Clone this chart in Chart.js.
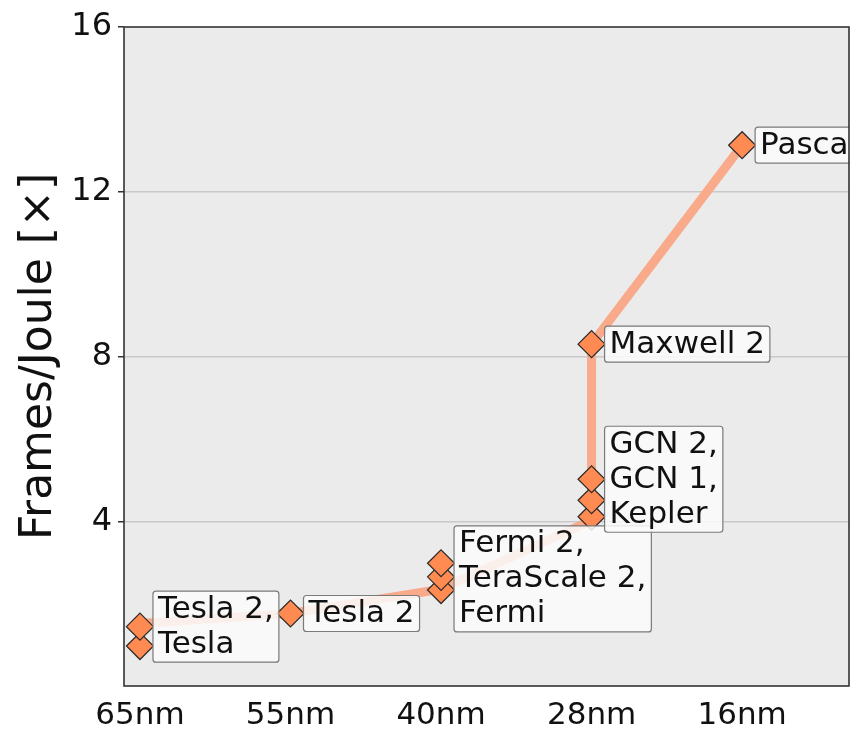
<!DOCTYPE html>
<html>
<head>
<meta charset="utf-8">
<script src="https://cdn.jsdelivr.net/npm/chart.js@4.4.1/dist/chart.umd.min.js"></script>
<style>
    html, body { margin: 0; padding: 0; background: #ffffff; }
    #efficiencyChart { display: block; }
</style>
</head>
<body>
<canvas id="efficiencyChart" width="856" height="732"></canvas>
<script>
// Process nodes on the x axis
const nodes = ['65nm', '55nm', '40nm', '28nm', '16nm'];

// Architectures (node index and frames/joule)
const archNames = ['Tesla', 'Tesla 2', 'Tesla 2', 'Fermi', 'TeraScale 2', 'Fermi 2', 'Kepler', 'GCN 1', 'GCN 2', 'Maxwell 2', 'Pascal'];
const archNode = [0, 0, 1, 2, 2, 2, 3, 3, 3, 3, 4];
const archValue = [0.97, 1.44, 1.76, 2.33, 2.65, 2.98, 4.11, 4.51, 5.02, 8.3, 13.13];

// Trend line
const trendNode = [0, 1, 2, 3, 3, 4];
const trendValue = [1.52, 1.76, 2.35, 4.02, 8.3, 13.13];

// Annotation boxes
const labelNode = [0, 1, 2, 3, 3, 4];
const labelValue = [1.44, 1.76, 2.6, 5.02, 8.3, 13.13];
const labelLines = [
    ['Tesla 2,', 'Tesla'],
    ['Tesla 2'],
    ['Fermi 2,', 'TeraScale 2,', 'Fermi'],
    ['GCN 2,', 'GCN 1,', 'Kepler'],
    ['Maxwell 2'],
    ['Pascal']
];

const yTicks = [4, 8, 12, 16];

document.addEventListener('DOMContentLoaded', function() {
    const FONT = '"DejaVu Sans", sans-serif';

    // plot background + frame
    const framePlugin = {
        id: 'frame',
        beforeDraw(chart) {
            const a = chart.chartArea;
            const ctx = chart.ctx;
            ctx.save();
            ctx.fillStyle = '#ebebeb';
            ctx.fillRect(a.left, a.top, a.right - a.left, a.bottom - a.top);
            ctx.restore();
        },
        afterDraw(chart) {
            const a = chart.chartArea;
            const ctx = chart.ctx;
            ctx.save();
            ctx.strokeStyle = '#333333';
            ctx.lineWidth = 1.6;
            ctx.strokeRect(a.left, a.top, a.right - a.left, a.bottom - a.top);
            ctx.restore();
        }
    };

    // text boxes next to the markers
    const labelPlugin = {
        id: 'archLabels',
        afterDatasetsDraw(chart) {
            const ctx = chart.ctx;
            const a = chart.chartArea;
            const xs = chart.scales.x;
            const ys = chart.scales.y;
            const lineH = 35;
            ctx.save();
            ctx.beginPath();
            ctx.rect(a.left, a.top, a.right - a.left, a.bottom - a.top);
            ctx.clip();
            ctx.font = '31px ' + FONT;
            labelLines.forEach(function(lines, i) {
                const px = xs.getPixelForValue(labelNode[i]) + 13;
                const py = ys.getPixelForValue(labelValue[i]);
                let w = 0;
                lines.forEach(function(t) { w = Math.max(w, ctx.measureText(t).width); });
                const h = lines.length * lineH + 1;
                const top = py - h / 2;
                ctx.beginPath();
                ctx.roundRect(px, top, w + 10, h, 3);
                ctx.fillStyle = 'rgba(252,252,252,0.85)';
                ctx.fill();
                ctx.strokeStyle = '#7a7a7a';
                ctx.lineWidth = 1.2;
                ctx.stroke();
                ctx.fillStyle = '#111111';
                ctx.textBaseline = 'middle';
                ctx.textAlign = 'left';
                lines.forEach(function(t, k) {
                    ctx.fillText(t, px + 5, top + lineH / 2 + 1 + k * lineH);
                });
            });
            ctx.restore();
        }
    };

    function initChart() {
        const canvas = document.getElementById('efficiencyChart');
        const existing = Chart.getChart('efficiencyChart');
        if (existing) existing.destroy();

        const archPoints = archNode.map((n, i) => ({ x: n, y: archValue[i], name: archNames[i] }));
        const trendPoints = trendNode.map((n, i) => ({ x: n, y: trendValue[i] }));

        new Chart(canvas.getContext('2d'), {
            type: 'scatter',
            data: {
                datasets: [{
                    label: 'Architectures',
                    data: archPoints,
                    pointStyle: 'rectRot',
                    pointRadius: 13.5,
                    pointHoverRadius: 13.5,
                    backgroundColor: '#ff8a52',
                    borderColor: '#2a2a2a',
                    borderWidth: 1.2,
                    showLine: false,
                    clip: false
                }, {
                    label: 'Trend',
                    data: trendPoints,
                    showLine: true,
                    borderColor: '#f9aa8a',
                    borderWidth: 9,
                    pointRadius: 0,
                    tension: 0,
                    clip: false
                }]
            },
            options: {
                responsive: false,
                animation: false,
                layout: { autoPadding: false, padding: { top: 27, right: 7, left: 0, bottom: 0 } },
                plugins: {
                    legend: { display: false },
                    tooltip: { enabled: false }
                },
                scales: {
                    x: {
                        type: 'linear',
                        min: -0.106,
                        max: 4.71,
                        border: { display: false },
                        grid: { display: false, drawTicks: false },
                        afterBuildTicks(scale) {
                            scale.ticks = nodes.map((n, i) => ({ value: i }));
                        },
                        ticks: {
                            autoSkip: false,
                            maxRotation: 0,
                            padding: 11,
                            color: '#111111',
                            font: { family: FONT, size: 31 },
                            callback: (v) => nodes[v]
                        },
                        afterFit(scale) {
                            scale.height = 46;
                            scale.paddingLeft = 0;
                            scale.paddingRight = 0;
                        }
                    },
                    y: {
                        min: 0,
                        max: 16,
                        border: { display: false },
                        afterBuildTicks(scale) {
                            scale.ticks = yTicks.map(v => ({ value: v }));
                        },
                        grid: {
                            color: (c) => (c.tick && c.tick.value < 16) ? '#c9c9c9' : 'rgba(0,0,0,0)',
                            lineWidth: 1.5,
                            tickLength: 6,
                            tickColor: '#333333',
                            tickWidth: 1.5
                        },
                        ticks: {
                            padding: 6,
                            color: '#111111',
                            font: { family: FONT, size: 32 }
                        },
                        title: {
                            display: true,
                            text: 'Frames/Joule [×]',
                            color: '#111111',
                            font: { family: FONT, size: 44 },
                            padding: { top: 13, bottom: 0 }
                        },
                        afterFit(scale) {
                            scale.width = 124;
                            scale.paddingTop = 0;
                            scale.paddingBottom = 0;
                        }
                    }
                }
            },
            plugins: [framePlugin, labelPlugin]
        });
        console.log('Efficiency chart initialized');
    }

    initChart();
});
</script>
</body>
</html>
